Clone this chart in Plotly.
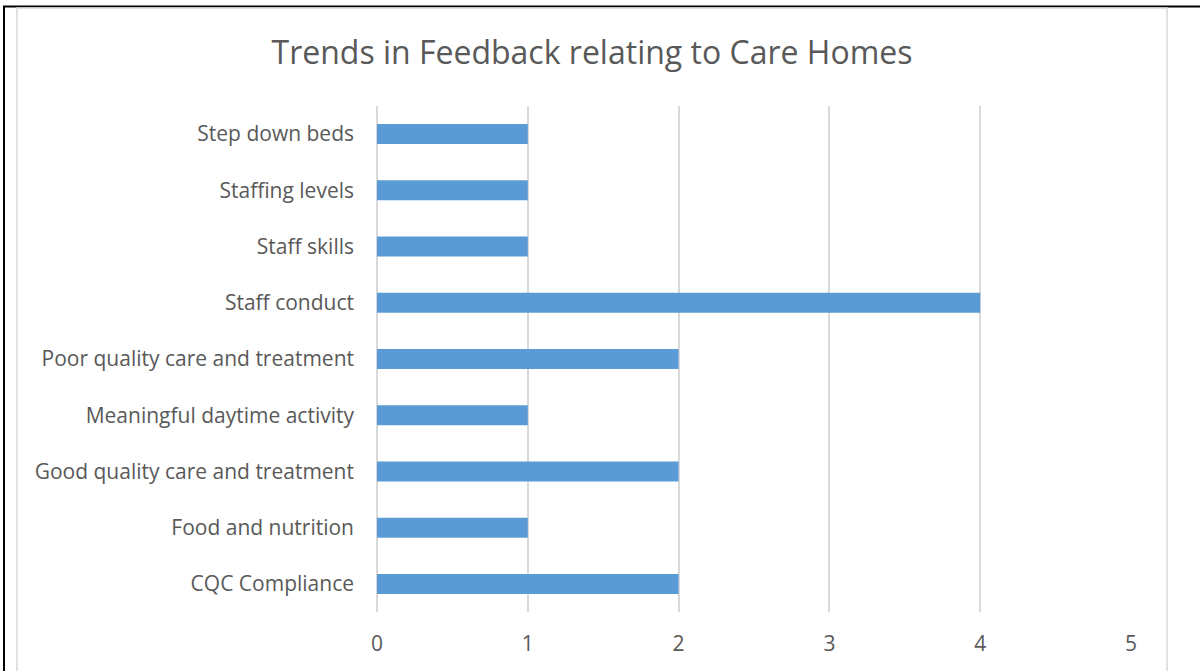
import plotly.graph_objects as go

# Feedback themes and number of items recorded for each
categories = [
    "CQC Compliance",
    "Food and nutrition",
    "Good quality care and treatment",
    "Meaningful daytime activity",
    "Poor quality care and treatment",
    "Staff conduct",
    "Staff skills",
    "Staffing levels",
    "Step down beds",
]
counts = [2, 1, 2, 1, 2, 4, 1, 1, 1]
x_ticks = [0, 1, 2, 3, 4, 5]

W, H = 1200, 671
L, R, T, B = 377, 1131, 106, 612  # plot area edges in pixels


def px(x):
    return (x - L) / (R - L)


def py(y):
    return (B - y) / (B - T)


fig = go.Figure(
    go.Bar(
        y=categories,
        x=counts,
        orientation="h",
        marker=dict(color="#5B9BD5", line=dict(width=0)),
        width=0.356,
        hoverinfo="x+y",
    )
)

font_family = "Open Sans, Liberation Sans, sans-serif"

shapes = [
    # outer dark frame of the page
    dict(type="line", xref="paper", yref="paper", x0=px(4), x1=px(4), y0=py(6), y1=py(H + 5),
         line=dict(color="black", width=2)),
    dict(type="line", xref="paper", yref="paper", x0=px(3), x1=px(W + 5), y0=py(6.5), y1=py(6.5),
         line=dict(color="black", width=2)),
    # chart area light border
    dict(type="rect", xref="paper", yref="paper", x0=px(17), x1=px(1167), y0=py(8), y1=py(H + 10),
         line=dict(color="#D9D9D9", width=1.5)),
]

fig.update_layout(
    width=W,
    height=H,
    margin=dict(l=L, r=W - R, t=T, b=H - B, pad=0),
    paper_bgcolor="white",
    plot_bgcolor="white",
    showlegend=False,
    title=dict(
        text="Trends in Feedback relating to Care Homes",
        x=592 / W,
        xref="container",
        xanchor="center",
        y=1 - 53 / H,
        yref="container",
        yanchor="middle",
        font=dict(family=font_family, size=32, color="#595959"),
    ),
    xaxis=dict(
        range=[0, 5],
        tickvals=x_ticks,
        ticktext=[str(v) for v in x_ticks],
        showgrid=True,
        gridcolor="#D9D9D9",
        gridwidth=1.5,
        zeroline=True,
        zerolinecolor="#D9D9D9",
        zerolinewidth=1.5,
        showline=False,
        ticks="",
        ticklabelstandoff=17,
        tickfont=dict(family=font_family, size=21, color="#595959"),
        fixedrange=True,
    ),
    yaxis=dict(
        categoryorder="array",
        categoryarray=categories,
        range=[-0.5, len(categories) - 0.5],
        showgrid=False,
        zeroline=False,
        showline=False,
        ticks="",
        ticklabelstandoff=22,
        tickfont=dict(family=font_family, size=21, color="#595959"),
        fixedrange=True,
    ),
    shapes=shapes,
)

fig.write_html("out.html")
